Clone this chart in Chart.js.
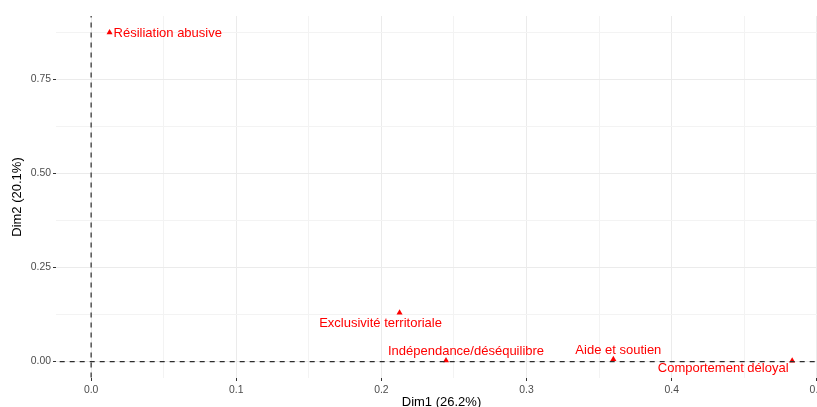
<!DOCTYPE html>
<html>
<head>
<meta charset="utf-8">
<script src="https://cdn.jsdelivr.net/npm/chart.js@4/dist/chart.umd.min.js"></script>
<style>
html,body{margin:0;padding:0;background:#fff;}
canvas{display:block;}
</style>
</head>
<body>
<canvas id="c" width="817" height="407"></canvas>
<script>
// ---- data ----
const categories = ["Résiliation abusive", "Exclusivité territoriale", "Indépendance/déséquilibre", "Aide et soutien", "Comportement déloyal"];
const dim1Values = [0.0127, 0.2125, 0.2445, 0.3598, 0.4830];
const dim2Values = [0.875, 0.1295, 0.003, 0.006, 0.002];
const xTickValues = [0.0, 0.1, 0.2, 0.3, 0.4, 0.5];
const yTickValues = [0.00, 0.25, 0.50, 0.75];
const xAxisTitle = "Dim1 (26.2%)";
const yAxisTitle = "Dim2 (20.1%)";

// label placement (pixel offsets from each point, like ggrepel)
const labelOffsets = [
  {dx: 4, dy: 1, align: 'left'},
  {dx: -19, dy: 11, align: 'center'},
  {dx: 20, dy: -9, align: 'center'},
  {dx: 5, dy: -9, align: 'center'},
  {dx: -69, dy: 8, align: 'center'}
];

const FONT = "'Liberation Sans', Arial, sans-serif";
const PANEL_RIGHT = 827; // the plotting panel runs past the right edge of the picture
const isMajor = (v, list) => list.some(t => Math.abs(t - v) < 1e-9);

const points = categories.map((c, i) => ({x: dim1Values[i], y: dim2Values[i]}));

const panelPlugin = {
  id: 'panel',
  afterLayout(chart) {
    const xs = chart.scales.x;
    const ca = chart.chartArea;
    ca.right = PANEL_RIGHT;
    ca.width = ca.right - ca.left;
    xs.right = PANEL_RIGHT;
    xs.width = xs.right - xs.left;
    xs.configure();
    const ys = chart.scales.y;
    ys._gridLineItems = null;
  }
};

const labelPlugin = {
  id: 'labels',
  afterDatasetsDraw(chart) {
    const meta = chart.getDatasetMeta(2);
    const ctx = chart.ctx;
    ctx.save();
    ctx.font = "13px " + FONT;
    ctx.fillStyle = '#FF0000';
    ctx.textBaseline = 'middle';
    meta.data.forEach((el, i) => {
      const o = labelOffsets[i];
      ctx.textAlign = o.align;
      ctx.fillText(categories[i], el.x + o.dx, el.y + o.dy);
    });
    ctx.restore();
  }
};

new Chart(document.getElementById('c'), {
  type: 'scatter',
  data: {
    datasets: [
      {
        data: [{x: 0, y: -1}, {x: 0, y: 2}],
        showLine: true, borderColor: '#2b2b2b', borderWidth: 1.2, borderDash: [5, 5],
        pointRadius: 0
      },
      {
        data: [{x: -1, y: 0}, {x: 1, y: 0}],
        showLine: true, borderColor: '#2b2b2b', borderWidth: 1.2, borderDash: [5, 5],
        pointRadius: 0
      },
      {
        data: points,
        pointStyle: 'triangle', pointRadius: 3.5,
        backgroundColor: '#FF0000', borderColor: '#FF0000', borderWidth: 0
      }
    ]
  },
  options: {
    responsive: false,
    animation: false,
    events: [],
    layout: {padding: {top: 16, right: 0, left: 0, bottom: 0}},
    plugins: {legend: {display: false}, tooltip: {enabled: false}},
    scales: {
      x: {
        type: 'linear',
        min: -0.0242, max: 0.507,
        afterBuildTicks(scale) {
          const t = [];
          for (let i = 0; i <= 10; i++) t.push({value: i * 0.05});
          scale.ticks = t;
        },
        afterFit(scale) {
          scale.height = 29;
          scale.paddingLeft = 0; scale.paddingRight = 0;
        },
        border: {display: false},
        grid: {
          drawTicks: true, tickLength: 3,
          color: c => isMajor(c.tick.value, xTickValues) ? '#ebebeb' : '#f3f3f3',
          lineWidth: 1,
          tickColor: c => isMajor(c.tick.value, xTickValues) ? '#333333' : 'rgba(0,0,0,0)',
          tickWidth: 1
        },
        ticks: {
          autoSkip: false, maxRotation: 0, padding: 3,
          color: '#4d4d4d', font: {family: FONT, size: 10.4},
          callback: v => isMajor(v, xTickValues) ? v.toFixed(1) : ''
        },
        title: {
          display: true, text: xAxisTitle, color: '#000000',
          font: {family: FONT, size: 13}, padding: {top: 0, bottom: -3}
        }
      },
      y: {
        type: 'linear',
        min: -0.0438, max: 0.919,
        afterBuildTicks(scale) {
          const t = [];
          for (let i = 0; i <= 7; i++) t.push({value: i * 0.125});
          scale.ticks = t;
        },
        afterFit(scale) {
          scale.width = 56;
          scale.paddingTop = 0; scale.paddingBottom = 0;
        },
        border: {display: false},
        grid: {
          drawTicks: true, tickLength: 3,
          color: c => isMajor(c.tick.value, yTickValues) ? '#ebebeb' : '#f3f3f3',
          lineWidth: 1,
          tickColor: c => isMajor(c.tick.value, yTickValues) ? '#333333' : 'rgba(0,0,0,0)',
          tickWidth: 1
        },
        ticks: {
          autoSkip: false, padding: 2,
          color: '#4d4d4d', font: {family: FONT, size: 10.4},
          callback: v => isMajor(v, yTickValues) ? v.toFixed(2) : ''
        },
        title: {
          display: true, text: yAxisTitle, color: '#000000',
          font: {family: FONT, size: 13}, padding: {top: 10, bottom: 0}
        }
      }
    }
  },
  plugins: [panelPlugin, labelPlugin]
});
</script>
</body>
</html>
